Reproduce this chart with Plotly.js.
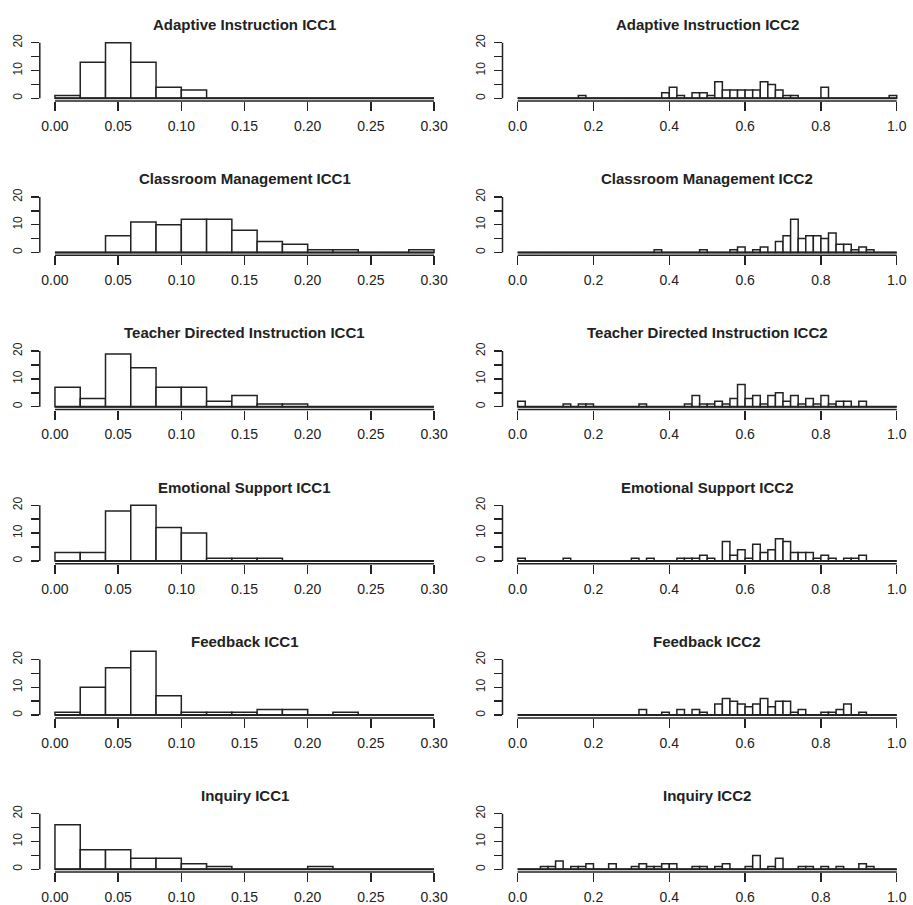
<!DOCTYPE html>
<html>
<head>
<meta charset="utf-8">
<script src="https://cdn.plot.ly/plotly-3.0.1.min.js"></script>
<style>html,body{margin:0;padding:0;background:#fff;}#chart{width:913px;height:905px;}</style>
</head>
<body>
<div id="chart"></div>
<script>
// ---- Data (counts per bin of width 0.02) ----
const binWidth = 0.02;

const titles = [
  "Adaptive Instruction ICC1", "Adaptive Instruction ICC2",
  "Classroom Management ICC1", "Classroom Management ICC2",
  "Teacher Directed Instruction ICC1", "Teacher Directed Instruction ICC2",
  "Emotional Support ICC1", "Emotional Support ICC2",
  "Feedback ICC1", "Feedback ICC2",
  "Inquiry ICC1", "Inquiry ICC2"
];

// ICC1: bins 0.00–0.30
const adaptiveICC1   = [1,13,20,13,4,3,0,0,0,0,0,0,0,0,0];
const classroomICC1  = [0,0,6,11,10,12,12,8,4,3,1,1,0,0,1];
const teacherICC1    = [7,3,19,14,7,7,2,4,1,1,0,0,0,0,0];
const emotionalICC1  = [3,3,18,20,12,10,1,1,1,0,0,0,0,0,0];
const feedbackICC1   = [1,10,17,23,7,1,1,1,2,2,0,1,0,0,0];
const inquiryICC1    = [16,7,7,4,4,2,1,0,0,0,1,0,0,0,0];

// ICC2: bins 0.00–1.00
const adaptiveICC2  = [0,0,0,0,0,0,0,0,1,0, 0,0,0,0,0,0,0,0,0,2, 4,1,0,2,2,1,6,3,3,3, 3,3,6,5,3,1,1,0,0,0, 4,0,0,0,0,0,0,0,0,1];
const classroomICC2 = [0,0,0,0,0,0,0,0,0,0, 0,0,0,0,0,0,0,0,1,0, 0,0,0,0,1,0,0,0,1,2, 0,1,2,0,4,6,12,5,6,6, 5,7,3,3,1,2,1,0,0,0];
const teacherICC2   = [2,0,0,0,0,0,1,0,1,1, 0,0,0,0,0,0,1,0,0,0, 0,0,1,4,1,1,2,1,3,8, 3,4,1,4,5,2,4,1,3,1, 4,1,2,2,0,2,0,0,0,0];
const emotionalICC2 = [1,0,0,0,0,0,1,0,0,0, 0,0,0,0,0,1,0,1,0,0, 0,1,1,1,2,1,0,7,2,4, 1,6,3,4,8,7,3,3,3,1, 2,1,0,1,1,2,0,0,0,0];
const feedbackICC2  = [0,0,0,0,0,0,0,0,0,0, 0,0,0,0,0,0,2,0,0,1, 0,2,0,2,1,0,4,6,5,4, 3,4,6,3,5,5,1,2,0,0, 1,1,2,4,0,1,0,0,0,0];
const inquiryICC2   = [0,0,0,1,1,3,0,1,1,2, 0,0,2,0,0,1,2,1,1,2, 2,0,0,1,1,0,1,2,0,0, 1,5,0,1,4,0,0,1,1,0, 1,0,1,0,0,2,1,0,0,0];

const icc1Ticks = [0, 0.05, 0.10, 0.15, 0.20, 0.25, 0.30];
const icc2Ticks = [0, 0.2, 0.4, 0.6, 0.8, 1.0];
const yTicks = [0, 5, 10, 15, 20];
const yTickText = ["0", "", "10", "", "20"];

const series = [
  adaptiveICC1, adaptiveICC2,
  classroomICC1, classroomICC2,
  teacherICC1, teacherICC2,
  emotionalICC1, emotionalICC2,
  feedbackICC1, feedbackICC2,
  inquiryICC1, inquiryICC2
];

// ---- Layout geometry ----
const W = 913, H = 905;
const pitch = 154.2;
const py = p => 1 - p / H;
const FONT = "Liberation Sans, Arial, Helvetica, sans-serif";
const INK = "#222";

const data = [];
const layout = {
  width: W, height: H,
  margin: {l: 0, r: 0, t: 0, b: 0},
  paper_bgcolor: "#fff", plot_bgcolor: "#fff",
  showlegend: false,
  font: {family: FONT, color: INK},
  shapes: [], annotations: []
};

series.forEach((counts, i) => {
  const row = Math.floor(i / 2), col = i % 2;
  const n = i + 1;
  const xa = n === 1 ? "xaxis" : "xaxis" + n;
  const ya = n === 1 ? "yaxis" : "yaxis" + n;
  const xr = n === 1 ? "x" : "x" + n;
  const yr = n === 1 ? "y" : "y" + n;
  const xmax = counts.length * binWidth;
  const pad = 0.04 * xmax;
  const xDom = col === 0 ? [39.8 / W, 449.2 / W] : [502.5 / W, 911.9 / W];

  data.push({
    type: "bar",
    x: counts.map((_, k) => k * binWidth),
    y: counts,
    offset: 0,
    width: binWidth,
    xaxis: xr, yaxis: yr,
    marker: {color: "#fff", line: {color: INK, width: 1.5}},
    hoverinfo: "skip"
  });

  const ticks = col === 0 ? icc1Ticks : icc2Ticks;
  layout[xa] = {
    domain: xDom,
    range: [-pad, xmax + pad],
    anchor: yr,
    showgrid: false, zeroline: false, showline: false,
    tickmode: "array",
    tickvals: ticks,
    ticktext: ticks.map(t => t.toFixed(col === 0 ? 2 : 1)),
    ticks: "outside", ticklen: 9, tickwidth: 1.5, tickcolor: INK,
    tickfont: {family: FONT, size: 14, color: INK},
    ticklabelstandoff: 3,
    fixedrange: true
  };
  layout[ya] = {
    domain: [py(101.1 + row * pitch), py(31.6 + row * pitch)],
    range: [-1, 24],
    anchor: xr,
    showgrid: false, zeroline: false, showline: false,
    tickmode: "array",
    tickvals: yTicks,
    ticktext: yTickText,
    tickangle: -90,
    ticks: "outside", ticklen: 8, tickwidth: 1.5, tickcolor: INK,
    tickfont: {family: FONT, size: 12, color: INK},
    ticklabelstandoff: 4,
    fixedrange: true
  };

  // axis lines spanning first to last tick (R style)
  layout.shapes.push({
    type: "line", xref: xr, yref: yr + " domain",
    x0: 0, x1: xmax, y0: 0, y1: 0,
    line: {color: INK, width: 1.5}
  });
  layout.shapes.push({
    type: "line", xref: xr + " domain", yref: yr,
    x0: 0, x1: 0, y0: 0, y1: 20,
    line: {color: INK, width: 1.5}
  });
  // flat outline of empty bins (baseline)
  layout.shapes.push({
    type: "line", xref: xr, yref: yr,
    x0: 0, x1: xmax, y0: 0, y1: 0,
    line: {color: INK, width: 2}
  });

  layout.annotations.push({
    text: "<b>" + titles[i] + "</b>",
    xref: "paper", yref: "paper",
    x: (xDom[0] + xDom[1]) / 2, y: py(35 + row * pitch),
    xanchor: "center", yanchor: "bottom",
    showarrow: false,
    font: {family: FONT, size: 15, color: INK}
  });
});

Plotly.newPlot("chart", data, layout, {staticPlot: true, displayModeBar: false});
</script>
</body>
</html>
